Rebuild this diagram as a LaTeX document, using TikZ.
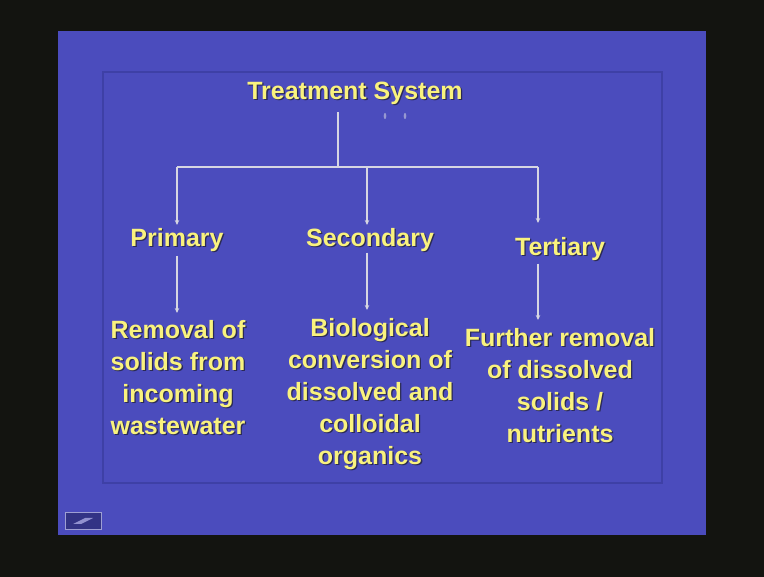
\documentclass[tikz,border=0pt]{standalone}
\usepackage{fontspec}
\setmainfont{Liberation Sans}
\usetikzlibrary{arrows.meta}
\definecolor{bgblack}{HTML}{131410}
\definecolor{slideblue}{HTML}{4B4CBD}
\definecolor{frameblue}{HTML}{3E40A6}
\definecolor{yellowc}{HTML}{F9F27E}
\definecolor{shade}{HTML}{2A2A55}
\definecolor{linec}{HTML}{D6D6E2}
\tikzset{
  txt/.style={font=\fontsize{25}{32}\selectfont\bfseries, text=yellowc, inner sep=0pt, align=center},
  conn/.style={draw=linec, line width=1.4pt},
  arr/.style={conn, -{Stealth[length=5pt,width=4.5pt]}},
}
\newcommand\ytxt[4]{%
  \node[txt,text=shade,anchor=#3] at ([xshift=1.3pt,yshift=-1.3pt]#2) {#4};
  \node[txt,anchor=#3] (#1) at (#2) {#4};}
\begin{document}
\begin{tikzpicture}[x=1pt,y=-1pt]
\useasboundingbox (0,0) rectangle (764,577);
\fill[bgblack] (0,0) rectangle (764,577);
% slide
\fill[slideblue] (58,31) rectangle (706,535);
\draw[frameblue, line width=1.5pt] (103,72) rectangle (662,483);
% small icon
\fill[frameblue!80!black] (65,513) rectangle (101,530);
\draw[linec!60!slideblue, line width=1pt] (65,513) rectangle (101,530);
\fill[linec!50!slideblue] (73,524) -- (85,518) -- (93,518) -- (81,524) -- cycle;
% faint marks
\fill[linec!55!slideblue] (385,116) ellipse (1.3pt and 3pt);
\fill[linec!55!slideblue] (405,116) ellipse (1.3pt and 3pt);
% texts
\ytxt{ts}{355,82}{north}{Treatment System}
\ytxt{prim}{177,228}{north}{Primary}
\ytxt{sec}{370,228}{north}{Secondary}
\ytxt{ter}{560,237}{north}{Tertiary}
\ytxt{dprim}{178,320}{north}{Removal of\\solids from\\incoming\\wastewater}
\ytxt{dsec}{370,318}{north}{Biological\\conversion of\\dissolved and\\colloidal\\organics}
\ytxt{dter}{560,328}{north}{Further removal\\of dissolved\\solids /\\nutrients}
% connectors
\coordinate (j) at (338,167);
\coordinate (hl) at (177,167);
\coordinate (hm) at (367,167);
\coordinate (hr) at (538,167);
\draw[conn] (j |- ts.south) ++(0,7) -- (j);
\draw[conn] (hl) -- (hr);
\draw[arr, shorten >=3pt] (hl) -- (hl |- prim.north);
\draw[arr, shorten >=3pt] (hm) -- (hm |- sec.north);
\draw[arr, shorten >=14pt] (hr) -- (hr |- ter.north);
\draw[arr, shorten <=4pt, shorten >=7pt] (hl |- prim.south) -- (hl |- dprim.north);
\draw[arr, shorten <=1pt, shorten >=8pt] (hm |- sec.south) -- (hm |- dsec.north);
\draw[arr, shorten <=3pt, shorten >=8pt] (hr |- ter.south) -- (hr |- dter.north);
\end{tikzpicture}
\end{document}
